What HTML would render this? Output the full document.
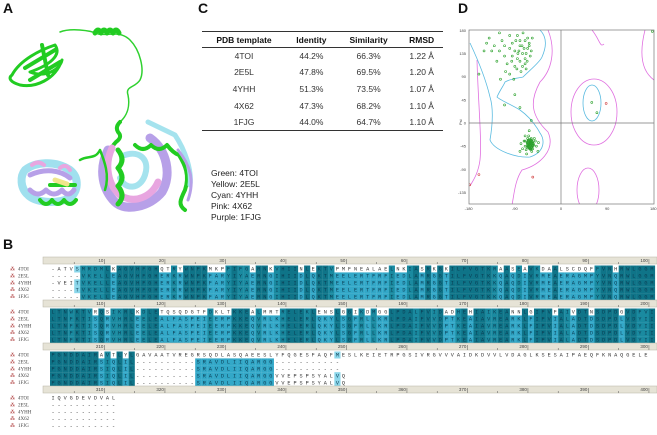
<!DOCTYPE html>
<html><head><meta charset="utf-8">
<style>
body{margin:0;background:#fff;}
#root{position:relative;width:657px;height:435px;overflow:hidden;font-family:"Liberation Sans",sans-serif;}
.lbl{position:absolute;font-weight:bold;font-size:14px;color:#111;}
table{border-collapse:collapse;font-size:8.5px;color:#333;}
</style></head>
<body>
<div id="root">
<div class="lbl" style="left:3px;top:0px">A</div>
<div class="lbl" style="left:198px;top:0px">C</div>
<div class="lbl" style="left:458px;top:0px">D</div>
<div class="lbl" style="left:3px;top:236px">B</div>

<svg style="position:absolute;left:0;top:0" width="200" height="230">
 <g fill="none" stroke-linecap="round" stroke-linejoin="round">
  <path d="M60,32 C70,28 90,30 98,34 C108,36 120,30 130,40 C140,50 145,70 140,80 C135,88 125,86 128,95 C130,105 128,115 120,122" stroke="#2fd12f" stroke-width="1.5"/>
  <path d="M95,33 q3,-6 6,0 q3,-6 6,0 q3,-6 6,0 q3,-6 6,0" stroke="#22cc22" stroke-width="5"/>
  <path d="M12,75 C20,60 40,50 55,45 C62,55 50,65 30,72 C45,78 60,70 62,60 C55,80 35,88 20,85 C10,82 8,78 12,75 Z" stroke="#22cc22" stroke-width="3"/>
  <path d="M25,68 L55,50 M30,80 L60,62 M42,45 L48,75" stroke="#22cc22" stroke-width="4"/>
  <path d="M120,122 q-5,5 -2,10 q5,5 -2,10 q-5,5 -5,10" stroke="#22cc22" stroke-width="4"/>
  <path d="M108,150 C98,170 103,190 115,202 C125,212 150,207 162,192 C172,175 167,150 150,138" stroke="#b7a0e8" stroke-width="9"/>
  <path d="M112,148 C104,165 108,185 120,195 C135,205 152,196 158,182" stroke="#e8a6e0" stroke-width="7"/>
  <path d="M125,155 C140,150 150,160 145,175 C140,190 125,190 120,178" stroke="#a5e3ee" stroke-width="6"/>
  <path d="M118,150 q8,10 0,18 q8,10 0,18 q8,10 0,18" stroke="#22cc22" stroke-width="5"/>
  <path d="M135,145 q8,8 16,0 q8,8 16,0 q6,8 12,10 C185,165 190,175 185,190 C180,200 178,205 185,210" stroke="#22cc22" stroke-width="4"/>
  <path d="M148,122 L175,135 C185,150 192,170 190,185" stroke="#a5e3ee" stroke-width="5"/>
  <path d="M178,150 C190,165 195,180 188,200" stroke="#b7a0e8" stroke-width="3"/>
  <path d="M25,170 C35,162 55,160 70,170 C80,178 78,192 70,198 C55,205 35,202 28,195 C20,188 20,176 25,170 Z" stroke="#a0e0ee" stroke-width="8"/>
  <path d="M30,175 C45,168 60,170 70,178 M30,190 q8,8 16,0 q8,8 16,0 q6,8 12,0" stroke="#b7a0e8" stroke-width="5"/>
  <path d="M32,165 q6,-5 12,0 M60,168 q6,-5 10,2" stroke="#e8a6e0" stroke-width="4"/>
  <path d="M40,200 q6,8 12,0 q6,8 12,0 q6,8 12,0 M50,185 L75,185" stroke="#22cc22" stroke-width="4"/>
  <path d="M55,180 l12,4" stroke="#f0e68c" stroke-width="5"/>
  <path d="M80,160 C88,155 95,160 100,150 C104,160 110,175 105,190" stroke="#22cc22" stroke-width="2.5"/>
 </g>
</svg>

<table style="position:absolute;left:202px;top:31px;width:241px;border-top:1.5px solid #333;border-bottom:1.5px solid #333;">
<tr style="height:16px;border-bottom:1.5px solid #333;font-weight:bold;color:#111"><td style="text-align:center;width:82px">PDB template</td><td style="text-align:center">Identity</td><td style="text-align:center">Similarity</td><td style="text-align:center">RMSD</td></tr>
<tr style="height:16.6px;text-align:center"><td>4TOI</td><td>44.2%</td><td>66.3%</td><td>1.22 Å</td></tr>
<tr style="height:16.6px;text-align:center"><td>2E5L</td><td>47.8%</td><td>69.5%</td><td>1.20 Å</td></tr>
<tr style="height:16.6px;text-align:center"><td>4YHH</td><td>51.3%</td><td>73.5%</td><td>1.07 Å</td></tr>
<tr style="height:16.6px;text-align:center"><td>4X62</td><td>47.3%</td><td>68.2%</td><td>1.10 Å</td></tr>
<tr style="height:16.6px;text-align:center"><td>1FJG</td><td>44.0%</td><td>64.7%</td><td>1.10 Å</td></tr>
</table>
<div style="position:absolute;left:211px;top:168px;font-size:8.5px;line-height:11px;color:#222">Green: 4TOI<br>Yellow: 2E5L<br>Cyan: 4YHH<br>Pink: 4X62<br>Purple: 1FJG</div>

<svg id="rama" style="position:absolute;left:0;top:0" width="657" height="230"></svg>
<svg id="aln" style="position:absolute;left:0;top:0" width="657" height="435"></svg>
</div>
<script>
// Ramachandran data
const betaPhi=[-140,-130,-120,-110,-100,-95,-90,-85,-80,-75,-70,-65,-60,-125,-115,-105,-100,-90,-85,-80,-75,-70,-65,-135,-120,-110,-95,-88,-82,-78,-72,-68,-62,-58,-100,-92,-86,-80,-74,-70,-66,-150,-145,-160,-118,-108,-96,-84,-76,-68,-62,-56,-90,-80,-110];
const betaPsi=[165,150,140,130,170,155,140,125,150,135,160,145,130,120,160,115,145,110,170,120,110,125,165,140,175,150,130,160,140,100,145,135,150,140,95,85,105,160,175,115,120,140,155,95,85,100,120,135,150,105,155,165,55,30,35];
const alphaPhi=[-60,-62,-58,-64,-56,-60,-66,-54,-62,-58,-70,-65,-55,-68,-50,-72,-63,-57,-75,-48,-61,-59,-63,-57,-65,-60,-52,-70,-78,-45,-67,-62,-58,-80,-44,-60,-61,-64,-56,-59,-66,-70,-53,60,70,78,178];
const alphaPsi=[-40,-42,-38,-45,-44,-35,-38,-40,-48,-30,-45,-30,-50,-52,-35,-35,-25,-55,-50,-45,-41,-43,-39,-47,-43,-50,-30,-25,-40,-55,-60,-15,5,-55,-38,-37,-46,-33,-36,-52,-47,-35,-43,40,20,-170,178];
const outPhi=[-160,-178,-55,88];
const outPsi=[-100,-120,-105,38];
const ramaTicks=[180,135,90,45,0,-45,-90,-135];
const NS='http://www.w3.org/2000/svg';
function mk(p,t,a){const e=document.createElementNS(NS,t);for(const k in a)e.setAttribute(k,a[k]);p.appendChild(e);return e;}
const rama=document.getElementById('rama');
const X=phi=>561+phi*0.513, Y=psi=>123-psi*0.515;
const clip=mk(rama,'clipPath',{id:'rc'});mk(clip,'rect',{x:469,y:30,width:186,height:174});
const g=mk(rama,'g',{'clip-path':'url(#rc)'});
let c;
c=mk(g,'path',{d:'M548,30 C556,50 552,70 540,82 C530,100 530,115 548,132 C556,150 540,165 522,170 C515,180 514,195 512,205',fill:'none',stroke:'#e070e0','stroke-width':0.8});
c=mk(g,'path',{d:'M477,60 C478,100 482,140 480,160 C478,175 472,182 470,186',fill:'none',stroke:'#e070e0','stroke-width':0.8});
c=mk(g,'ellipse',{cx:594,cy:112,rx:23,ry:33,fill:'none',stroke:'#e070e0','stroke-width':0.8});
c=mk(g,'ellipse',{cx:588,cy:190,rx:11,ry:22,fill:'none',stroke:'#e070e0','stroke-width':0.8});
c=mk(g,'path',{d:'M592,30 C600,40 600,48 604,44 M645,30 C640,50 640,70 654,80',fill:'none',stroke:'#e070e0','stroke-width':0.8});
c=mk(g,'path',{d:'M470,43 C478,60 486,80 490,97 C494,110 492,128 490,140 C494,150 515,158 530,157 C545,152 545,140 540,133 C534,122 527,115 520,110 C510,104 500,100 497,97 C500,90 504,85 505,82 C512,78 520,78 523,77 C530,70 540,62 542,57 C546,48 548,38 540,30',fill:'none',stroke:'#5bbbe0','stroke-width':0.8});
c=mk(g,'ellipse',{cx:592,cy:103,rx:9,ry:18,fill:'none',stroke:'#5bbbe0','stroke-width':0.8});
mk(rama,'rect',{x:469,y:30,width:185,height:174,fill:'none',stroke:'#777','stroke-width':0.7});
mk(rama,'line',{x1:X(0),y1:30,x2:X(0),y2:204,stroke:'#777','stroke-width':0.7});
mk(rama,'line',{x1:469,y1:Y(0),x2:654,y2:Y(0),stroke:'#777','stroke-width':0.7});
ramaTicks.forEach(v=>{const t=mk(rama,'text',{x:466,y:Y(v)+1.5,'font-size':4,'text-anchor':'end',fill:'#444'});t.textContent=v;});
[-180,-90,0,90,180].forEach(v=>{const t=mk(rama,'text',{x:X(v),y:210,'font-size':4,'text-anchor':'middle',fill:'#444'});t.textContent=v;});
let at=mk(rama,'text',{x:0,y:0,'font-size':4,fill:'#444',transform:'translate(462,125) rotate(-90)'});at.textContent='Psi';
function pts(P,S,col,name){P.forEach((p,i)=>{const e=mk(g,'circle',{cx:X(p),cy:Y(S[i]),r:1,fill:'none',stroke:col,'stroke-width':0.6});});}
pts(betaPhi,betaPsi,'#2aa02a','residue-point');
pts(alphaPhi,alphaPsi,'#2aa02a','residue-point');
mk(g,'ellipse',{cx:X(-60),cy:Y(-41),rx:4,ry:6,fill:'#2aa02a',opacity:0.85});
pts(outPhi,outPsi,'#d04040','outlier-point');

// Alignment data
const names=['4TOI','2E5L','4YHH','4X62','1FJG'];
const blocks=[
['-ATVSMRDMLKAGVHFGHQTRYWNPKMKPFIFGARNKVHIINLEKTVPMFNEALAELNKIASRKGKILFVGTKRAASEAVKDAALSCDQFFVNHRWLGGM',
 '-----VKELLEAGVHFGHERKRWNPKFARYIYAERNGIHIIDLQKTMEELERTFRFIEDLAMRGGTILFVGTKKQAQDIVRMEAERAGMPYVNQRWLGGM',
 '-VEITVKELLEAGVHFGHERKRWNPKFARYIYAERNGIHIIDLQKTMEELERTFRFIEDLAMRGGTILFVGTKKQAQDIVRMEAERAGMPYVNQRWLGGM',
 '----TVKELLEAGVHFGHERKRWNPKFARYIYAERNGIHIIDLQKTMEELERTFRFIEDLAMRGGTILFVGTKKQAQDIVRMEAERAGMPYVNQRWLGGM',
 '-----VKELLEAGVHFGHERKRWNPKFARYIYAERNGIHIIDLQKTMEELERTFRFIEDLAMRGGTILFVGTKKQAQDIVRMEAERAGMPYVNQRWLGGM'],
['LTNWKTVRQSIKRLKDLETQSQDGTFDKLTKKEALMRTRELEKLENSLGGIKDMGGLPDALFVIDADHEHIAIKEANNLGIPVFAIVDTNSDPDGVDFVI',
 'LTNFKTISQRVHRLEELEALFASPEIEERPKKEQVRLKHELERLQKYLSGFRLLKRLPDAIFVVDPTKEAIAVREARKLFIPVIALADTDSDPDLVDYII',
 'LTNFKTISQRVHRLEELEALFASPEIEERPKKEQVRLKHELERLQKYLSGFRLLKRLPDAIFVVDPTKEAIAVREARKLFIPVIALADTDSDPDLVDYII',
 'LTNFKTISQRVHRLEELEALFASPEIEERPKKEQVRLKHELERLQKYLSGFRLLKRLPDAIFVVDPTKEAIAVREARKLFIPVIALADTDSDPDLVDYII',
 'LTNFKTISQRVHRLEELEALFASPEIEERPKKEQVRLKHELERLQKYLSGFRLLKRLPDAIFVVDPTKEAIAVREARKLFIPVIALADTDSDPDLVDYII'],
['PGNDDAIRAVTLYLGAVAATVREGRSQDLASQAEESLYFQGESFAQFMESLKEIETRPGSIVRGVVVAIDKDVVLVDAGLKSESAIPAEQFKNAQGELE',
 'PGNDDAIRSIQLIL----------SRAVDLIIQARGG-----------',
 'PGNDDAIRSIQLIL----------SRAVDLIIQARGG-----------',
 'PGNDDAIRSIQLIL----------SRAVDLIIQARGGVVEPSPSYALVQ',
 'PGNDDAIRSIQLIL----------SRAVDLIIQARGGVVEPSPSYALVQ'],
['IQVGDEVDVAL','-----------','-----------','-----------','-----------']];
const rulerStarts=[0,100,200,300];
const groups=['ILVM','FYW','KRH','DE','ST','NQ','AG','P','C'];
function grp(ch){for(const s of groups)if(s.includes(ch))return s;return ch;}
const aln=document.getElementById('aln');
const x0=50,w=6.05,rh=6.9;
const blockTops=[257,300,343,386];
blocks.forEach((b,bi)=>{
  const top=blockTops[bi];
  const r=mk(aln,'rect',{x:x0-7,y:top,width:657-x0+7,height:7,fill:'#e6e3d6',stroke:'#b8b4a4','stroke-width':0.5});
  
  for(let k=1;k<=10;k++){const n=rulerStarts[bi]+k*10;const xx=x0+(k*10-1)*w;
    mk(aln,'line',{x1:xx,y1:top+2,x2:xx,y2:top+7,stroke:'#555','stroke-width':0.5});
    mk(aln,'line',{x1:xx-5*w,y1:top+5,x2:xx-5*w,y2:top+7,stroke:'#555','stroke-width':0.5});
    const t=mk(aln,'text',{x:xx-1,y:top+5,'font-size':4.5,'text-anchor':'end',fill:'#444'});t.textContent=n;
    }
  const L=Math.max(...b.map(s=>s.length));
  b.forEach((s,si)=>{const y=top+8.5+si*rh;
    const ic=mk(aln,'text',{x:10,y:y+5,'font-size':5,fill:'#a33'});ic.textContent='⁂';
    const nm=mk(aln,'text',{x:18,y:y+5,'font-size':5,fill:'#444','font-family':'Liberation Serif'});nm.textContent=names[si];
    
  });
  for(let i=0;i<L;i++){
    const col=b.map(s=>s[i]||' ');
    const cnt={};col.forEach(c=>{if(c!=='-'&&c!==' '){const k=grp(c);cnt[k]=(cnt[k]||0)+1;}});
    const best=Object.keys(cnt).sort((a,b2)=>cnt[b2]-cnt[a])[0];
    col.forEach((c,si)=>{const y=top+8.5+si*rh;const xx=x0+i*w;
      if(c===' ')return;
      let fill=null;
      if(c!=='-'&&best&&grp(c)===best){const n=cnt[best];fill=n>=5?'#1a8aa0':n===4?'#33a8c8':n===3?'#8ad6ea':null;
        if(fill&&n>=5&&col.every(z=>z===c))fill='#0f7488';}
      if(fill){const rr=mk(aln,'rect',{x:xx,y:y,width:w+0.1,height:rh+0.1,fill:fill});}
      const t=mk(aln,'text',{x:xx+w/2,y:y+5.2,'font-size':5.2,'text-anchor':'middle',fill:fill?'#0a3a50':'#333','font-family':'Liberation Mono'});t.textContent=c;
      
    });
  }
});
</script>
</body></html>
